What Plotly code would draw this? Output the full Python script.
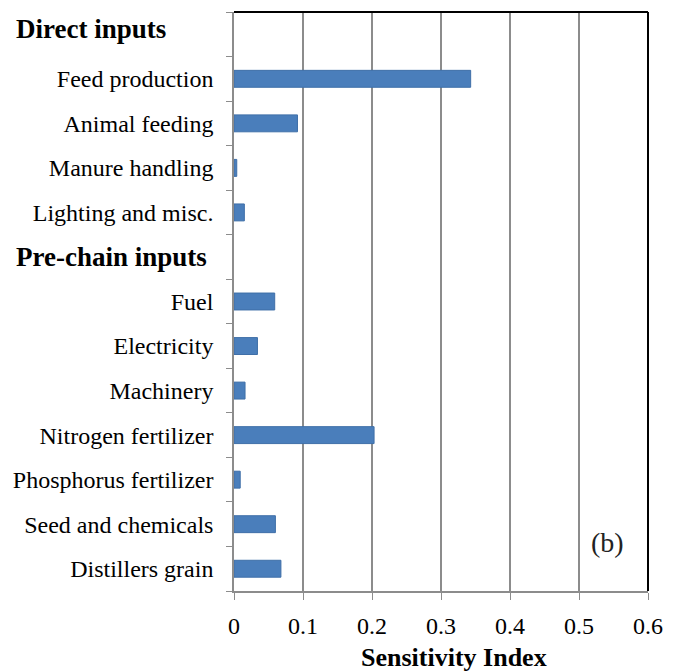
import plotly.graph_objects as go

categories = ["Direct inputs", "Feed production", "Animal feeding", "Manure handling",
              "Lighting and misc.", "Pre-chain inputs", "Fuel", "Electricity", "Machinery",
              "Nitrogen fertilizer", "Phosphorus fertilizer", "Seed and chemicals",
              "Distillers grain"]
values = [None, 0.343, 0.092, 0.004, 0.015, None, 0.059, 0.034, 0.016,
          0.203, 0.009, 0.060, 0.068]
headers = ["Direct inputs", "Pre-chain inputs"]
x_ticks = [0, 0.1, 0.2, 0.3, 0.4, 0.5, 0.6]
x_tick_labels = ["0", "0.1", "0.2", "0.3", "0.4", "0.5", "0.6"]

FONT = "Liberation Serif, Times New Roman, serif"

fig = go.Figure()
fig.add_trace(go.Bar(
    y=categories, x=values, orientation="h",
    marker=dict(color="#4A7EBB", line=dict(color="#3F6FA8", width=1)),
    width=0.38,
))

ticktext = ["" if c in headers else c for c in categories]

fig.update_layout(
    width=667, height=664,
    margin=dict(l=226, r=27, t=4, b=81),
    paper_bgcolor="white", plot_bgcolor="white",
    showlegend=False,
    font=dict(family=FONT, color="black"),
    xaxis=dict(
        range=[0, 0.6], tickvals=x_ticks, ticktext=x_tick_labels,
        showgrid=True, gridcolor="#8c8c8c", gridwidth=1.5,
        showline=True, linecolor="#8c8c8c", linewidth=1.5,
        ticks="outside", ticklen=7, tickcolor="#8c8c8c",
        tickfont=dict(size=24, family=FONT, color="black"),
        ticklabelstandoff=5,
        zeroline=False, mirror=False, automargin=False,
    ),
    yaxis=dict(
        type="category", categoryorder="array", categoryarray=categories,
        autorange="reversed",
        tickvals=categories, ticktext=ticktext,
        tickson="boundaries",
        ticks="outside", ticklen=6, tickcolor="#8c8c8c",
        showline=True, linecolor="#8c8c8c", linewidth=1.5,
        showgrid=False,
        tickfont=dict(size=24, family=FONT, color="black"),
        ticklabelstandoff=14, automargin=False,
    ),
)

# top and right dark border
fig.add_shape(type="line", xref="paper", yref="paper", x0=0, x1=1, y0=1, y1=1,
              line=dict(color="black", width=2))
fig.add_shape(type="line", xref="paper", yref="paper", x0=1, x1=1, y0=0, y1=1,
              line=dict(color="black", width=2))

for h in headers:
    fig.add_annotation(text="<b>%s</b>" % h, xref="paper", x=-0.531, xanchor="left",
                       yref="y", y=h, yshift=5 if h == headers[0] else 0,
                       showarrow=False, font=dict(size=27, family=FONT, color="black"))

fig.add_annotation(text="(b)", xref="paper", yref="paper", x=0.903, y=0.083,
                   xanchor="center", yanchor="middle",
                   showarrow=False, font=dict(size=28, family=FONT, color="#222"))

fig.add_annotation(text="<b>Sensitivity Index</b>", xref="paper", yref="paper",
                   x=0.531, y=-0.1157, xanchor="center", yanchor="middle", showarrow=False,
                   font=dict(size=26, family=FONT, color="black"))

fig.write_html("out.html")
